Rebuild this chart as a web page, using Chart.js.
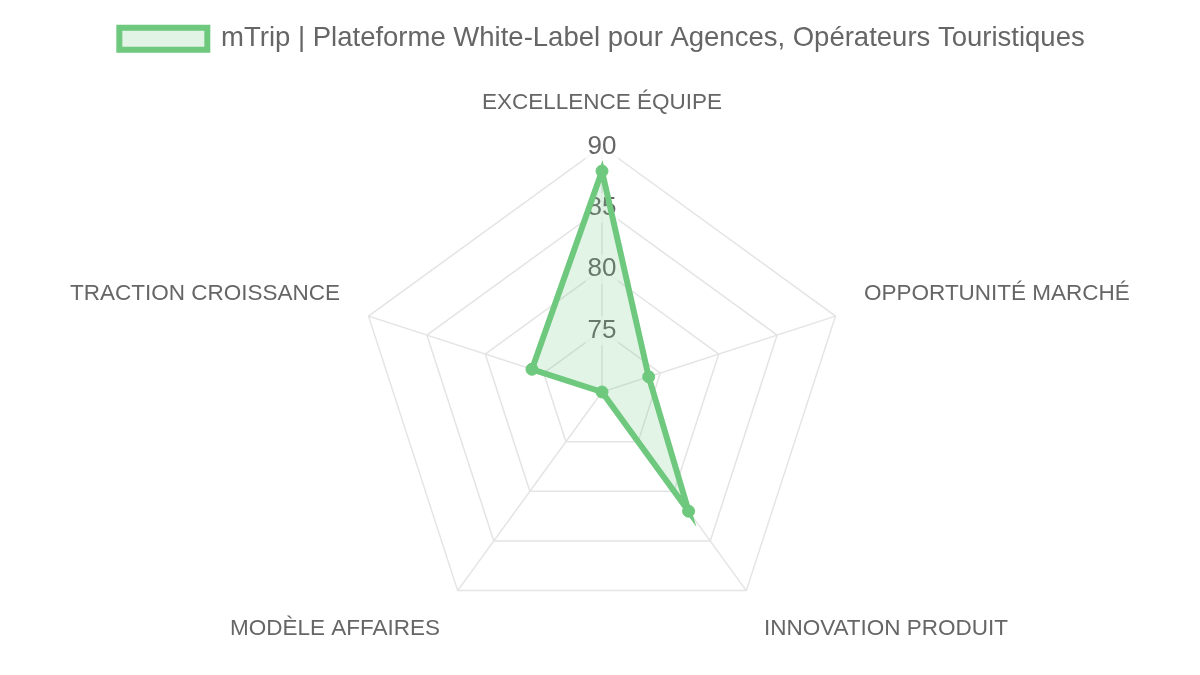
<!DOCTYPE html>
<html>
<head>
<meta charset="utf-8">
<script src="https://cdn.jsdelivr.net/npm/chart.js@4/dist/chart.umd.min.js"></script>
<style>
  html, body { margin: 0; padding: 0; background: #fff; }
  #wrap { width: 1200px; height: 675px; }
</style>
</head>
<body>
<div id="wrap"><canvas id="radar"></canvas></div>
<script>
/* ---- Data ---- */
const categories = [
  'EXCELLENCE ÉQUIPE',
  'OPPORTUNITÉ MARCHÉ',
  'INNOVATION PRODUIT',
  'MODÈLE AFFAIRES',
  'TRACTION CROISSANCE',
];
const seriesLabel = 'mTrip | Plateforme White-Label pour Agences, Opérateurs Touristiques';
const seriesValues = [88, 74, 82, 70, 76];
const tickValues = [70, 75, 80, 85, 90];

const GREEN = 'rgb(110,200,125)';
const GREEN_FILL = 'rgba(110,200,125,0.2)';
const FONT = "'Liberation Sans', Arial, sans-serif";

/* a bit of extra room under the legend */
const legendSpacer = {
  id: 'legendSpacer',
  beforeInit(chart) {
    const origFit = chart.legend.fit;
    chart.legend.fit = function () {
      origFit.call(this);
      this.height += 6;
    };
  },
};

new Chart(document.getElementById('radar'), {
  type: 'radar',
  plugins: [legendSpacer],
  data: {
    labels: categories,
    datasets: [{
      label: seriesLabel,
      data: seriesValues,
      borderColor: GREEN,
      backgroundColor: GREEN_FILL,
      borderWidth: 6,
      pointRadius: 6,
      pointBackgroundColor: GREEN,
      pointBorderColor: GREEN,
      pointBorderWidth: 1,
    }],
  },
  options: {
    responsive: true,
    maintainAspectRatio: false,
    animation: false,
    layout: { padding: { top: 11, bottom: 0, left: 4 } },
    plugins: {
      legend: {
        position: 'top',
        labels: {
          color: '#666',
          font: { family: FONT, size: 27.5 },
          boxWidth: 88,
          boxHeight: 22,
          padding: 14,
        },
      },
      tooltip: { enabled: false },
    },
    scales: {
      r: {
        min: tickValues[0],
        max: tickValues[tickValues.length - 1],
        ticks: {
          stepSize: 5,
          color: '#666',
          font: { family: FONT, size: 26 },
          backdropColor: 'rgba(255,255,255,0.75)',
        },
        grid: { color: '#e4e4e4', lineWidth: 1.5 },
        angleLines: { color: '#e4e4e4', lineWidth: 1.5 },
        pointLabels: {
          color: '#666',
          font: { family: FONT, size: 22.5 },
          padding: 15,
        },
      },
    },
  },
});
</script>
</body>
</html>
